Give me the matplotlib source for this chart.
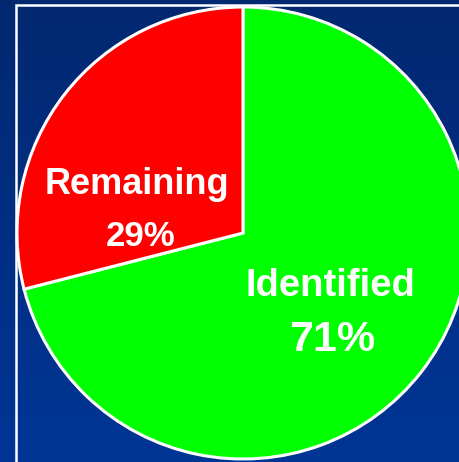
import numpy as np
from matplotlib import pyplot as plt
from matplotlib.patches import Rectangle
from matplotlib.colors import LinearSegmentedColormap

labels = ["Identified", "Remaining"]
shares = [71, 29]
colors = ["#00ff00", "#ff0000"]

W, H = 460, 462
fig = plt.figure(figsize=(W / 100, H / 100), dpi=100)

# background gradient
bg = fig.add_axes([0, 0, 1, 1])
bg.axis("off")
cmap = LinearSegmentedColormap.from_list("bgblue", ["#022870", "#003596"])
grad = np.linspace(0, 1, 256).reshape(-1, 1)
bg.imshow(grad, aspect="auto", cmap=cmap, extent=[0, 1, 0, 1], origin="upper")
bg.set_xlim(0, 1)
bg.set_ylim(0, 1)

ax = fig.add_axes([0, 0, 1, 1])
ax.patch.set_alpha(0)

# white frame running off the right and bottom edges
ax.add_patch(Rectangle((16, -20), W + 40, H - 5 + 20, fill=False,
                       edgecolor="white", linewidth=1.8))

ax.pie(shares, colors=colors, startangle=90, counterclock=False,
       center=(243, H - 233), radius=226, frame=True,
       wedgeprops=dict(edgecolor="white", linewidth=2.2))
ax.set_xlim(0, W)
ax.set_ylim(0, H)
ax.set_aspect("auto")
ax.axis("off")

font = "Liberation Sans"
ax.text(137, H - 185, "Remaining", color="white", fontsize=26, fontweight="bold",
        family=font, ha="center", va="center")
ax.text(141, H - 237, "29%", color="white", fontsize=25, fontweight="bold",
        family=font, ha="center", va="center")
ax.text(330, H - 286, "Identified", color="white", fontsize=27.5, fontweight="bold",
        family=font, ha="center", va="center")
ax.text(332, H - 340, "71%", color="white", fontsize=31, fontweight="bold",
        family=font, ha="center", va="center")

fig.savefig("out.png", dpi=100)
